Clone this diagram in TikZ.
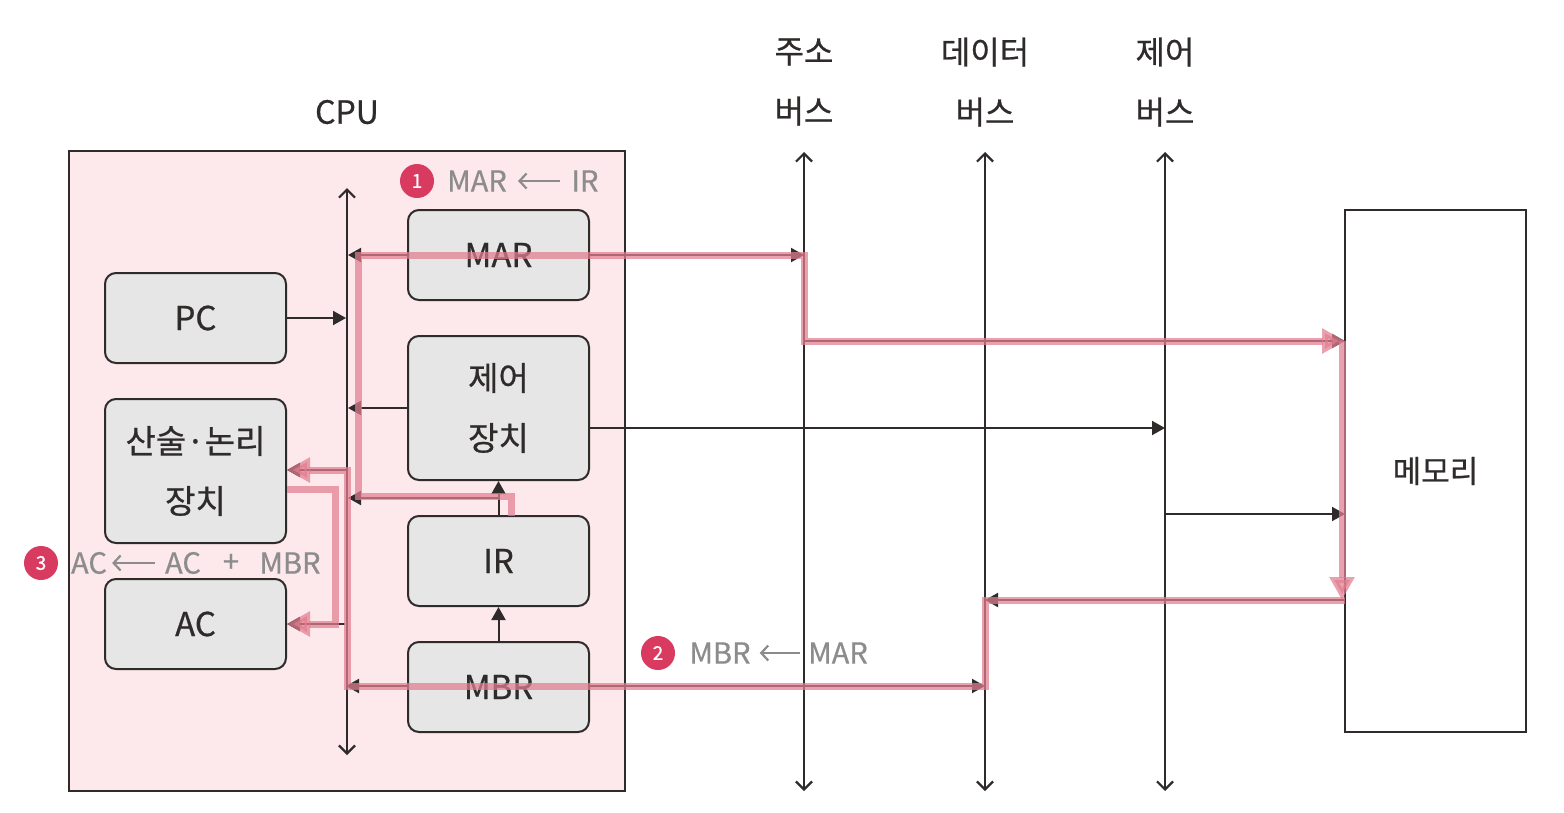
\documentclass[tikz,border=0pt]{standalone}
\usepackage{fontspec}
\setmainfont{Noto Sans CJK KR}[FakeBold=0.7]
\usetikzlibrary{arrows.meta}
\definecolor{inkc}{HTML}{2F2B2B}
\definecolor{framefill}{HTML}{FDE9EB}
\definecolor{boxfill}{HTML}{E6E6E6}
\definecolor{pinkc}{HTML}{E27D90}
\definecolor{badge}{HTML}{D93A60}
\definecolor{notec}{HTML}{8C8C8C}
\tikzset{
  regbox/.style={draw=inkc,line width=2pt,fill=boxfill,rounded corners=11pt,minimum width=181pt,inner sep=0pt,align=center,text=inkc,font=\fontsize{33}{60}\selectfont},
  plainbox/.style={draw=inkc,line width=2pt,fill=white,minimum width=181pt,inner sep=0pt,font=\fontsize{31}{60}\selectfont,text=inkc},
  headtext/.style={inner sep=0pt,align=center,text=inkc,font=\fontsize{32}{60}\selectfont},
  busline/.style={draw=inkc,line width=2.4pt,{Straight Barb[length=8pt,width=16pt,line width=2.2pt]}-{Straight Barb[length=8pt,width=16pt,line width=2.2pt]}},
  wire/.style={draw=inkc,line width=2pt},
  wiretip/.style={wire,-{Triangle[length=13pt,width=14pt]}},
  pinkpath/.style={draw=pinkc,opacity=.72,line width=#1,line join=miter},
  pinkpath/.default=7pt,
  pinktip/.style={-{Triangle[length=23pt,width=24pt,color=pinkc]}},
  numdot/.style={circle,fill=badge,minimum size=34pt,inner sep=0pt,text=white,font=\fontsize{19}{19}\selectfont},
  notetext/.style={inner sep=0pt,text=notec,font=\fontsize{29}{29}\selectfont},
  notearrow/.style={draw=notec,line width=2.2pt,-{Straight Barb[length=7pt,width=15pt,line width=2.2pt]}}
}
\begin{document}
\begin{tikzpicture}[x=1pt,y=-1pt]
\useasboundingbox (0,0) rectangle (1564,812);
% frame
\node[draw=inkc,line width=2.2pt,fill=framefill,minimum width=556pt,minimum height=640pt,inner sep=0pt] (cpu) at (347,471) {};
% registers
\node[regbox,minimum height=90pt] (mar) at (498.5,255) {MAR};
\node[regbox,minimum height=90pt] (pc) at (195.5,318) {PC};
\node[regbox,minimum height=144pt] (cu) at (498.5,408) {제어\\장치};
\node[regbox,minimum height=144pt] (alu) at (195.5,471) {산술·논리\\장치};
\node[regbox,minimum height=90pt] (ir) at (498.5,561) {IR};
\node[regbox,minimum height=90pt] (ac) at (195.5,624) {AC};
\node[regbox,minimum height=90pt] (mbr) at (498.5,687) {MBR};
\node[plainbox,minimum height=522pt] (mem) at (1435.5,471) {메모리};
% headings
\node[headtext] (cputitle) at (347,112) {CPU};
\node[headtext] (addrtitle) at (804,82) {주소\\버스};
\node[headtext] (datatitle) at (985,82) {데이터\\버스};
\node[headtext] (ctrltitle) at (1165,82) {제어\\버스};
% bus end points
\coordinate (ibt) at (347,188); \coordinate (ibb) at (347,755);
\coordinate (abt) at (804,152); \coordinate (abb) at (804,791);
\coordinate (dbt) at (985,152); \coordinate (dbb) at (985,791);
\coordinate (cbt) at (1165,152); \coordinate (cbb) at (1165,791);
\draw[busline] (ibb) -- (ibt);
\draw[busline] (abb) -- (abt);
\draw[busline] (dbb) -- (dbt);
\draw[busline] (cbb) -- (cbt);
% junctions
\coordinate (ibmar) at (348,255);
\coordinate (ibpc) at (346,318);
\coordinate (ibcu) at (348,408);
\coordinate (ibir) at (348,498);
\coordinate (iralu) at (347,470);
\coordinate (irac) at (345,624);
\coordinate (ibmbr) at (346,686);
\coordinate (abmar) at (804,255);
\coordinate (abmem) at (804,341);
\coordinate (memin) at (1345,341);
\coordinate (cbcu) at (1165,428);
\coordinate (cbmem) at (1165,514);
\coordinate (memctl) at (1345,514);
\coordinate (dbmem) at (985,600);
\coordinate (memout) at (1345,600);
\coordinate (dbmbr) at (985,686);
\coordinate (irup) at (498,498);
% black connectors
\draw[wiretip] (mar.west) -- (ibmar);
\draw[wire] (mar.east) -- (abmar) -- (abmem);
\draw[wiretip] (abmar) ++(-14,0) -- (abmar);
\draw[wiretip] (abmem) -- (memin);
\draw[wiretip] (pc.east) -- (ibpc);
\draw[wiretip] (cu.west) -- (ibcu);
\draw[wiretip] (cu.east |- cbcu) -- (cbcu);
\draw[wiretip] (cbmem) -- (memctl);
\draw[wiretip] (ir.north) -- (cu.south);
\draw[wiretip] (irup) -- (ibir);
\draw[wiretip] (mbr.north) -- (ir.south);
\draw[wiretip] (iralu) -- (alu.east |- iralu);
\draw[wiretip] (irac) -- (ac.east |- irac);
\draw[wiretip] (mbr.west |- ibmbr) -- (ibmbr);
\draw[wiretip] (mbr.east |- dbmbr) -- (dbmbr);
\draw[wiretip] (memout) -- (dbmem);
% pink routes
\coordinate (pa) at (511,516); \coordinate (pb) at (511,496);
\coordinate (pc1) at (358,496); \coordinate (pd) at (358,255);
\coordinate (pe) at (804,255); \coordinate (pf) at (804,341);
\coordinate (pg) at (1342,341); \coordinate (ph) at (1342,600);
\coordinate (pi1) at (347,470); \coordinate (pj) at (347,686);
\coordinate (pk) at (335,489); \coordinate (pl) at (335,624);
\draw[pinkpath,pinktip] (pa) -- (pb) -- (pc1) -- (pd) -- (pe) -- (pf) -- (memin);
\draw[pinkpath,pinktip] (pg) -- (ph);
\draw[pinkpath,pinktip] (memout) -- (dbmem) -- (dbmbr) -- (pj) -- (pi1) -- (alu.east |- pi1);
\draw[pinkpath,pinktip] (alu.east |- pk) -- (pk) -- (pl) -- (ac.east |- pl);
% notes
\node[numdot] (n1) at (417,181) {1};
\node[notetext] (n1a) at (477,181) {MAR};
\node[notetext] (n1b) at (585,181) {IR};
\draw[notearrow] ([xshift=-11pt]n1b.west) -- ([xshift=11pt]n1a.east);
\node[numdot] (n2) at (658,653) {2};
\node[notetext] (n2a) at (720,653) {MBR};
\node[notetext] (n2b) at (838,653) {MAR};
\draw[notearrow] ([xshift=-8pt]n2b.west) -- ([xshift=9pt]n2a.east);
\node[numdot] (n3) at (41,563) {3};
\node[notetext] (n3a) at (89,563) {AC};
\node[notetext] (n3b) at (183,563) {AC};
\node[notetext] (n3c) at (231,563) {+};
\node[notetext] (n3d) at (290,563) {MBR};
\draw[notearrow] ([xshift=-10pt]n3b.west) -- ([xshift=5pt]n3a.east);
\end{tikzpicture}
\end{document}
